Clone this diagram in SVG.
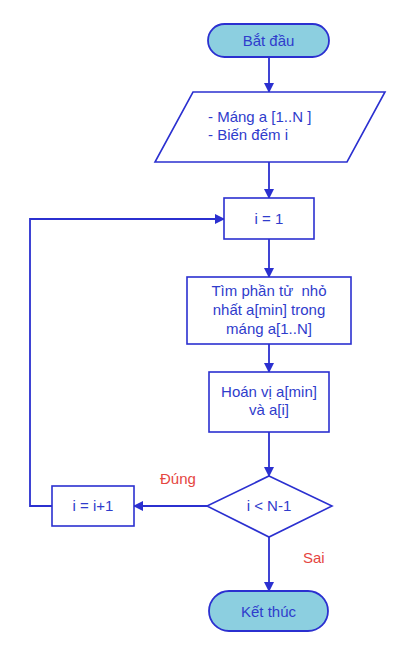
<svg xmlns="http://www.w3.org/2000/svg" width="414" height="649" viewBox="0 0 414 649">
<defs>
<style>
.s{fill:#fff;stroke:#2b30d0;stroke-width:1.6}
.t{fill:#8ccfe0;stroke:#2b30d0;stroke-width:1.8}
.c{fill:none;stroke:#2b30d0;stroke-width:1.8}
text{font-family:"Liberation Sans",Arial,sans-serif;font-size:15px;fill:#2f3ccc;white-space:pre}
.m{text-anchor:middle}
.r{fill:#e5463f}
</style>
<marker id="a" markerWidth="10" markerHeight="10" refX="9" refY="5" orient="auto" markerUnits="userSpaceOnUse">
<path d="M0,0 L10,5 L0,10 z" fill="#2b30d0"/>
</marker>
</defs>
<rect width="414" height="649" fill="#fff"/>
<g id="connectors">
<line class="c" x1="269" y1="57" x2="269" y2="92" marker-end="url(#a)"/>
<line class="c" x1="269" y1="162" x2="269" y2="198" marker-end="url(#a)"/>
<line class="c" x1="269" y1="239" x2="269" y2="277" marker-end="url(#a)"/>
<line class="c" x1="269" y1="344" x2="269" y2="372" marker-end="url(#a)"/>
<line class="c" x1="269" y1="432" x2="269" y2="476" marker-end="url(#a)"/>
<line class="c" x1="207" y1="506" x2="134" y2="506" marker-end="url(#a)"/>
<line class="c" x1="269" y1="537" x2="269" y2="591" marker-end="url(#a)"/>
<polyline class="c" points="52,506 30,506 30,219 224,219" marker-end="url(#a)"/>
<text class="r" x="160" y="484">Đúng</text>
<text class="r" x="303" y="563">Sai</text>
</g>
<g id="start">
<rect class="t" x="208" y="24" width="121" height="33" rx="16.5"/>
<text class="m" x="268.5" y="46">Bắt đầu</text>
</g>
<g id="input">
<polygon class="s" points="193,92 385,92 347,162 155,162"/>
<text x="208" y="122">- Máng a [1..N ]</text>
<text x="208" y="140">- Biến đếm i</text>
</g>
<g id="init">
<rect class="s" x="224" y="198" width="90" height="41"/>
<text class="m" x="269" y="224">i = 1</text>
</g>
<g id="find">
<rect class="s" x="187" y="277" width="164" height="67"/>
<text class="m" x="269" y="296" xml:space="preserve">Tìm phần tử  nhỏ</text>
<text class="m" x="269" y="315">nhất a[min] trong</text>
<text class="m" x="269" y="334">máng a[1..N]</text>
</g>
<g id="swap">
<rect class="s" x="209" y="372" width="120" height="60"/>
<text class="m" x="269" y="397">Hoán vị a[min]</text>
<text class="m" x="269" y="415">và a[i]</text>
</g>
<g id="cond">
<polygon class="s" points="269,476 332,506 269,537 207,506"/>
<text class="m" x="269" y="511">i &lt; N-1</text>
</g>
<g id="inc">
<rect class="s" x="52" y="486" width="82" height="40"/>
<text class="m" x="93" y="511">i = i+1</text>
</g>
<g id="end">
<rect class="t" x="209" y="591" width="119" height="40" rx="20"/>
<text class="m" x="268.5" y="617">Kết thúc</text>
</g>
</svg>
